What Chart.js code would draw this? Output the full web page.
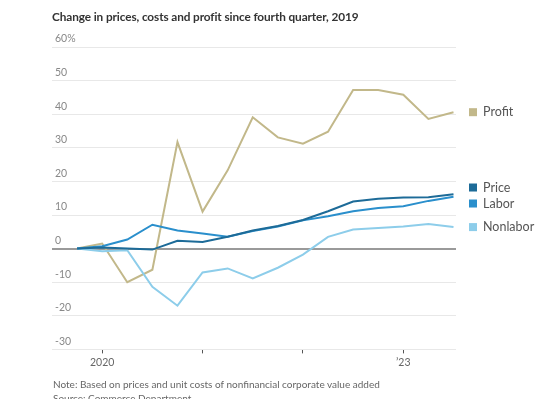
<!DOCTYPE html>
<html><head><meta charset="utf-8">
<script src="https://cdn.jsdelivr.net/npm/chart.js@4/dist/chart.umd.min.js"></script>
<style>
html,body{margin:0;padding:0;background:#fff;overflow:hidden}
#wrap{position:relative;width:540px;height:399px}
canvas{position:absolute;left:0;top:0}
.t{position:absolute;font-family:Lato,sans-serif;white-space:nowrap}
#title{left:52px;top:9px;font-size:11.8px;font-weight:700;color:#333;letter-spacing:-0.1px}
#note{left:53px;top:378px;font-size:10px;color:#666}
#src{left:53px;top:392px;font-size:10px;color:#666}
</style></head>
<body><div id="wrap">
<canvas id="c" width="540" height="399"></canvas>
<div class="t" id="title">Change in prices, costs and profit since fourth quarter, 2019</div>
<div class="t" id="note">Note: Based on prices and unit costs of nonfinancial corporate value added</div>
<div class="t" id="src">Source: Commerce Department</div>
</div>
<script>
const quarters = ["4Q19","1Q20","2Q20","3Q20","4Q20","1Q21","2Q21","3Q21","4Q21","1Q22","2Q22","3Q22","4Q22","1Q23","2Q23","3Q23"];
const profit   = [0, 1.5, -10, -6.3, 31.7, 11, 23.3, 39.1, 33.1, 31.2, 34.8, 47.2, 47.2, 45.8, 38.6, 40.6];
const price    = [0, 0.3, 0, -0.3, 2.3, 2.0, 3.5, 5.4, 6.7, 8.5, 11.1, 14.0, 14.8, 15.2, 15.3, 16.2];
const labor    = [0, 0.7, 2.7, 7.1, 5.4, 4.5, 3.5, 5.2, 6.6, 8.4, 9.6, 11.1, 12.1, 12.6, 14.2, 15.4];
const nonlabor = [0, -0.8, -0.5, -11.4, -17, -7.1, -5.9, -8.9, -5.7, -1.8, 3.5, 5.7, 6.1, 6.6, 7.3, 6.4];
const seriesNames = ["Profit","Price","Labor","Nonlabor"];
const xTickPositions = [1, 5, 9, 13];
const xTickLabels = ["2020", "", "", "\u201923"];
const yTickValues = [60, 50, 40, 30, 20, 10, 0, -10, -20, -30];

const colors = {Profit:"#c2b88a", Price:"#1d6b98", Labor:"#2a8fcc", Nonlabor:"#8dcdea"};
const seriesData = {Profit:profit, Price:price, Labor:labor, Nonlabor:nonlabor};

const datasets = seriesNames.map(n => ({
  label: n,
  data: seriesData[n].map((v,i)=>({x:i,y:v})),
  borderColor: colors[n],
  backgroundColor: colors[n],
  borderWidth: 2,
  pointRadius: 0,
  tension: 0,
  order: n==="Profit" ? 4 : (n==="Nonlabor"?3:(n==="Labor"?2:1))
}));

const endLabels = {
  id:'endLabels',
  afterDraw(chart){
    const ctx = chart.ctx, ys = chart.scales.y;
    const items = seriesNames.map(n => ({n, y: ys.getPixelForValue(seriesData[n][seriesData[n].length-1])}));
    items.sort((a,b)=>a.y-b.y);
    const gap = 16;
    for (let k=0;k<3;k++){
      for (let i=1;i<items.length;i++){
        const d = items[i].y - items[i-1].y;
        if (d < gap){
          const s = (gap-d)/2;
          items[i-1].y -= s; items[i].y += s;
        }
      }
    }
    ctx.save();
    ctx.font = '12.5px Lato, sans-serif';
    ctx.textBaseline = 'middle';
    items.forEach(it=>{
      ctx.fillStyle = colors[it.n];
      ctx.fillRect(469, it.y-4, 8, 8);
      ctx.fillStyle = '#555';
      ctx.fillText(it.n, 483, it.y);
    });
    ctx.restore();
  }
};

new Chart(document.getElementById('c'), {
  type:'line',
  data:{labels:quarters, datasets},
  options:{
    responsive:false,
    animation:false,
    layout:{padding:{left:46, right:84, top:47, bottom:27}},
    plugins:{legend:{display:false}, tooltip:{enabled:false}, title:{display:false}},
    scales:{
      x:{
        type:'linear', min:-1, max:15.1,
        afterBuildTicks(s){ s.ticks = xTickPositions.map(v=>({value:v})); },
        ticks:{
          callback(v){ const i = xTickPositions.indexOf(v); return i>=0 ? xTickLabels[i] : ''; },
          color:'#666', font:{family:'Lato, sans-serif', size:10.5}, maxRotation:0, autoSkip:false, padding:3
        },
        grid:{drawOnChartArea:false, drawTicks:true, tickLength:4, color:'#555', lineWidth:1},
        border:{display:false}
      },
      y:{
        min:-30, max:60,
        afterBuildTicks(s){ s.ticks = yTickValues.map(v=>({value:v})); },
        ticks:{
          mirror:true, padding:3, labelOffset:-8,
          callback(v){ return v===60 ? '60%' : String(v); },
          color:'#888', font:{family:'Lato, sans-serif', size:10.5}
        },
        grid:{
          drawTicks:false,
          color(c){ return c.tick && c.tick.value===0 ? '#9a9a9a' : '#e8e8e8'; },
          lineWidth(c){ return c.tick && c.tick.value===0 ? 2 : 1; }
        },
        border:{display:false}
      }
    }
  },
  plugins:[endLabels]
});
</script>
</body></html>
